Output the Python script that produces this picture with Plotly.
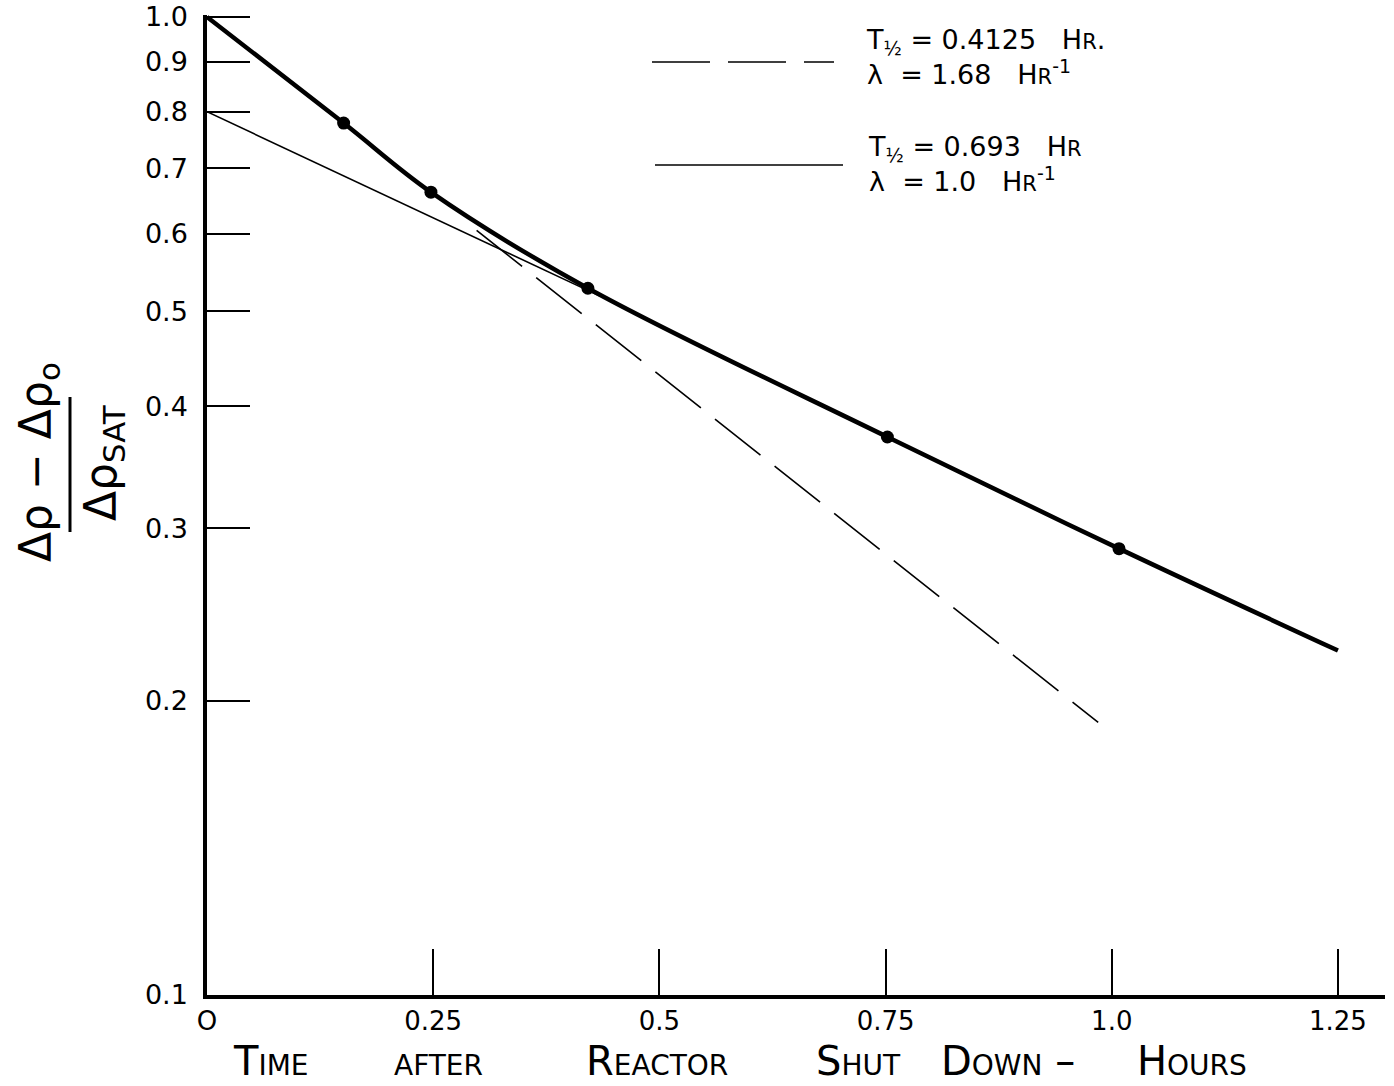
import plotly.graph_objects as go

# ---- data ----
curve_t = [0.0, 0.151, 0.2475, 0.421, 0.752, 1.008, 1.25]
curve_v = [1.0, 0.779, 0.662, 0.528, 0.372, 0.286, 0.225]
point_t = [0.151, 0.2475, 0.421, 0.752, 1.008]
point_v = [0.779, 0.662, 0.528, 0.372, 0.286]
slow_t = [0.0, 0.435]          # T1/2 = 0.693 hr, lambda = 1.0 /hr
slow_v = [0.80, 0.518]
fast_t = [0.298, 0.985]        # T1/2 = 0.4125 hr, lambda = 1.68 /hr
fast_v = [0.605, 0.190]
x_ticks = [0, 0.25, 0.5, 0.75, 1.0, 1.25]
x_ticktext = ["O", "0.25", "0.5", "0.75", "1.0", "1.25"]
y_ticks = [0.1, 0.2, 0.3, 0.4, 0.5, 0.6, 0.7, 0.8, 0.9, 1.0]
y_ticktext = ["0.1", "0.2", "0.3", "0.4", "0.5", "0.6", "0.7", "0.8", "0.9", "1.0"]
SC = "<span style='font-size:21px'>R</span>"
legend_fast = "T<sub>½</sub> = 0.4125   H" + SC + ".<br>λ  = 1.68   H" + SC + "<sup>-1</sup>"
legend_slow = "T<sub>½</sub> = 0.693   H" + SC + "<br>λ  = 1.0   H" + SC + "<sup>-1</sup>"
x_title_words = ["Time", "after", "Reactor", "Shut", "Down –", "Hours"]

W, H = 1394, 1086
L, R, T, B = 207, 9, 15, 91
FONT = "DejaVu Sans"


def px(x):
    return (x - L) / (W - L - R)


def py(y):
    return (H - B - y) / (H - T - B)


fig = go.Figure()
fig.add_trace(go.Scatter(x=curve_t, y=curve_v, mode="lines",
                         line=dict(color="black", width=4.5, shape="spline", smoothing=1.0),
                         hoverinfo="skip"))
fig.add_trace(go.Scatter(x=point_t, y=point_v, mode="markers",
                         marker=dict(color="black", size=13), hoverinfo="skip"))
fig.add_trace(go.Scatter(x=slow_t, y=slow_v, mode="lines",
                         line=dict(color="black", width=1.6), hoverinfo="skip"))
fig.add_trace(go.Scatter(x=fast_t, y=fast_v, mode="lines",
                         line=dict(color="black", width=1.6, dash="58px,18px"), hoverinfo="skip"))

annotations = []
# legend texts
annotations.append(dict(text=legend_fast, x=px(864), y=py(57), xref="paper", yref="paper",
                        xanchor="left", yanchor="middle", align="left", showarrow=False,
                        font=dict(family=FONT, size=27, color="black")))
annotations.append(dict(text=legend_slow, x=px(866), y=py(164), xref="paper", yref="paper",
                        xanchor="left", yanchor="middle", align="left", showarrow=False,
                        font=dict(family=FONT, size=27, color="black")))
# y-axis title (fraction)
annotations.append(dict(text="Δρ − Δρ<sub>o</sub>", x=px(38), y=py(462), xref="paper", yref="paper",
                        xanchor="center", yanchor="middle", showarrow=False, textangle=-90,
                        font=dict(family=FONT, size=44, color="black")))
annotations.append(dict(text="Δρ<sub>SAT</sub>", x=px(103), y=py(463), xref="paper", yref="paper",
                        xanchor="center", yanchor="middle", showarrow=False, textangle=-90,
                        font=dict(family=FONT, size=44, color="black")))
# x-axis title, word by word
for word, cx in zip(x_title_words, [271, 438, 657, 858, 1008, 1192]):
    annotations.append(dict(text=word, x=px(cx), y=py(1061), xref="paper", yref="paper",
                            xanchor="center", yanchor="middle", showarrow=False,
                            font=dict(family=FONT, size=40, color="black", variant="small-caps")))

shapes = [
    dict(type="line", xref="paper", yref="paper", x0=px(652), x1=px(834), y0=py(62), y1=py(62),
         line=dict(color="black", width=1.6, dash="58px,18px")),
    dict(type="line", xref="paper", yref="paper", x0=px(655), x1=px(843), y0=py(165), y1=py(165),
         line=dict(color="black", width=1.6)),
    dict(type="line", xref="paper", yref="paper", x0=px(70), x1=px(70), y0=py(397), y1=py(532),
         line=dict(color="black", width=3)),
]

fig.update_layout(
    width=W, height=H,
    margin=dict(l=L, r=R, t=T, b=B, autoexpand=False),
    paper_bgcolor="white", plot_bgcolor="white",
    showlegend=False,
    annotations=annotations,
    shapes=shapes,
    font=dict(family=FONT, color="black"),
)
fig.update_xaxes(range=[0, 1.302], tickvals=x_ticks, ticktext=x_ticktext, automargin=False,
                 ticks="inside", ticklen=46, tickwidth=1.6, tickcolor="black",
                 showline=True, linewidth=3.5, linecolor="black", showgrid=False, zeroline=False,
                 tickfont=dict(family=FONT, size=26, color="black"), ticklabelstandoff=0)
fig.update_yaxes(type="log", range=[-1, 0.002], tickvals=y_ticks, ticktext=y_ticktext, automargin=False,
                 ticks="inside", ticklen=43, tickwidth=1.6, tickcolor="black",
                 showline=True, linewidth=3.5, linecolor="black", showgrid=False, zeroline=False,
                 tickfont=dict(family=FONT, size=27, color="black"), ticklabelstandoff=10)

fig.write_html("out.html")
